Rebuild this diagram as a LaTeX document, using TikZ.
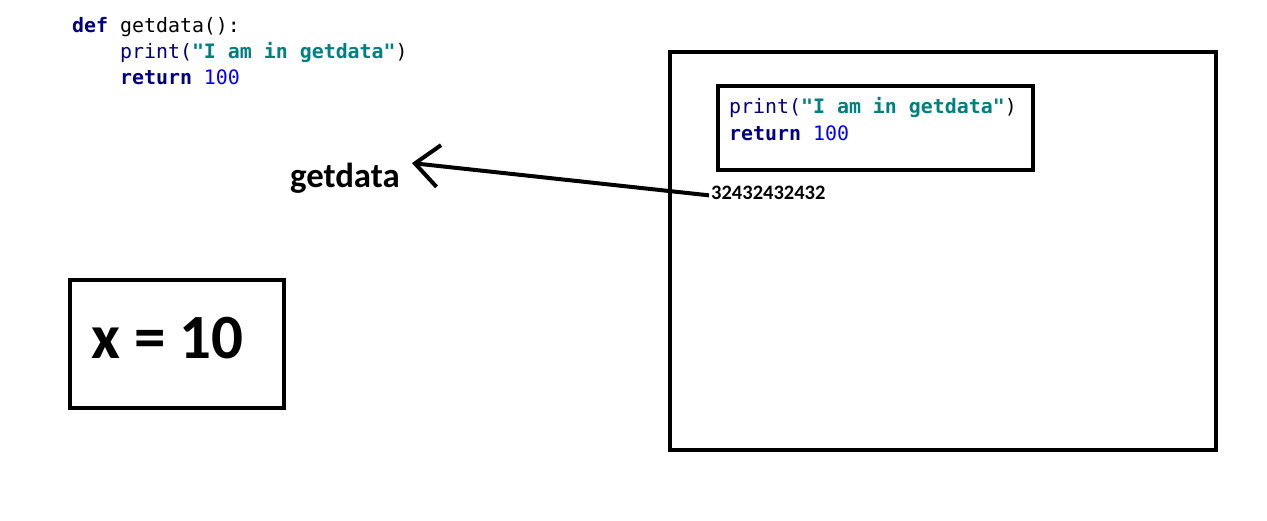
\documentclass[tikz,border=0pt]{standalone}
\usepackage{fontspec}
\setmainfont{Carlito}
\setmonofont{DejaVu Sans Mono}
\usetikzlibrary{arrows.meta,positioning}

\definecolor{kwnavy}{RGB}{0,0,128}
\definecolor{strteal}{RGB}{0,128,128}
\definecolor{numblue}{RGB}{0,0,255}
\newcommand{\kw}[1]{\textcolor{kwnavy}{\textbf{#1}}}
\newcommand{\fn}[1]{\textcolor{kwnavy}{#1}}
\newcommand{\str}[1]{\textcolor{strteal}{\textbf{#1}}}
\newcommand{\num}[1]{\textcolor{numblue}{#1}}

\begin{document}
\begin{tikzpicture}[
        x=1pt, y=-1pt,
        box/.style={rectangle, draw, line width=4pt, inner sep=0pt, outer sep=0pt, anchor=north west},
        pycode/.style={font=\ttfamily\fontsize{19.9}{26.3}\selectfont, align=left, inner sep=0pt, anchor=north west},
        arrow/.style={-{Straight Barb[length=24pt, width=42pt]}, line width=4pt},
        varname/.style={font=\bfseries\fontsize{34.8}{40}\selectfont, inner xsep=12pt, inner ysep=0pt}
    ]
    \useasboundingbox (0,0) rectangle (1267,520);

    % function source at the top
    \node[pycode] (source) at (72,17) {%
        \kw{def} getdata():\\
        \phantom{xxxx}\fn{print(}\str{"I am in getdata"})\\
        \phantom{xxxx}\kw{return} \num{100}};

    % memory holding the function body
    \node[box, minimum width=546pt, minimum height=398pt] (memory) at (670,52) {};
    \node[box, minimum width=315pt, minimum height=84pt] (body) at (717.5,85.5) {};
    \node[pycode, below right=12pt and 11.5pt of body.north west] (bodycode) {%
        \fn{print(}\str{"I am in getdata"})\\
        \kw{return} \num{100}};

    % address of the function object
    \node[font=\bfseries\fontsize{20.5}{23}\selectfont, inner sep=2pt, anchor=base west] (address) at (709,199) {32432432432};

    % the name getdata
    \node[varname, anchor=base west] (fname) at (278,187.7) {getdata};

    % the variable x
    \node[box, minimum width=214pt, minimum height=128pt] (xbox) at (70,280) {};
    \node[font=\bfseries\fontsize{63}{70}\selectfont, inner sep=0pt, anchor=base west] (xval) at (91,358) {x = 10};

    \draw[arrow] ([yshift=-3pt]address.west) -- (fname.north east);

\end{tikzpicture}
\end{document}
